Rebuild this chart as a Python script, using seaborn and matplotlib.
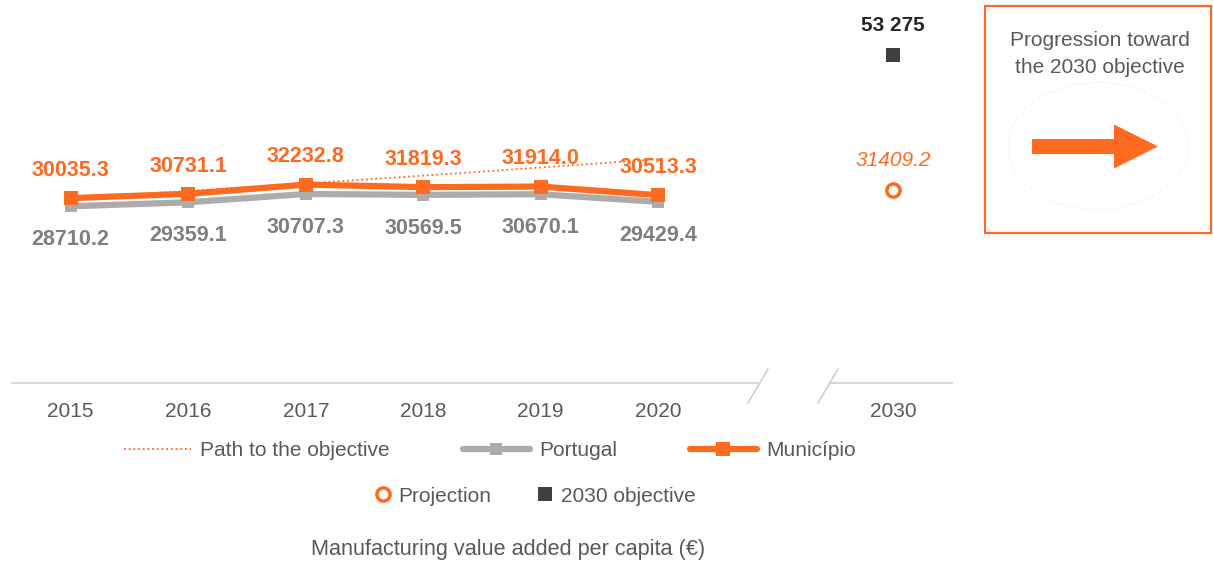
import matplotlib
matplotlib.use("Agg")
import matplotlib.pyplot as plt
import pandas as pd
import seaborn as sns
from matplotlib.lines import Line2D
from matplotlib.patches import Rectangle, FancyArrow, Ellipse

# ---- data -------------------------------------------------------------
years = ["2015", "2016", "2017", "2018", "2019", "2020"]
municipio = [30035.3, 30731.1, 32232.8, 31819.3, 31914.0, 30513.3]
portugal = [28710.2, 29359.1, 30707.3, 30569.5, 30670.1, 29429.4]
path_to_objective = [30035.3, 31206.0, 32423.0, 33688.0, 35001.0, 36366.0]
target_year = "2030"
projection_2030 = 31409.2
objective_2030 = 53275

# ---- style ------------------------------------------------------------
ORANGE = "#FF6A21"
GREY_LINE = "#AEABAB"
GREY_LABEL = "#7F7F7F"
DARK = "#404040"
TEXT = "#595959"
AXIS = "#D9D9D9"

sns.set_theme(style="white")
plt.rcParams["font.family"] = ["Liberation Sans", "DejaVu Sans"]

W, H = 1213, 562
fig = plt.figure(figsize=(W / 100, H / 100), dpi=100)
fig.patch.set_facecolor("white")

# main chart area: x slots 0..5 for the series, slot 6 left empty, slot 7 = target year
ax = fig.add_axes([12 / W, 179 / H, 940 / W, 357 / H])
ax.set_xlim(-0.5, 7.5)
ax.set_ylim(0, 58000)

pos = list(range(len(years)))
target_pos = len(years) + 1

df = pd.DataFrame({
    "pos": pos,
    "year": years,
    "Município": municipio,
    "Portugal": portugal,
    "Path": path_to_objective,
})

dotted = (0, (1, 1.6))
sns.lineplot(data=df, x="pos", y="Path", ax=ax, color=ORANGE, lw=1.3,
             linestyle=dotted, zorder=2)
sns.lineplot(data=df, x="pos", y="Portugal", ax=ax, color=GREY_LINE, lw=4.5,
             marker="s", markersize=9, markeredgewidth=0, zorder=3)
sns.lineplot(data=df, x="pos", y="Município", ax=ax, color=ORANGE, lw=4.5,
             marker="s", markersize=10, markeredgewidth=0, zorder=4)

# 2030 points
sns.scatterplot(x=[target_pos], y=[objective_2030], ax=ax, marker="s",
                color=DARK, s=95, linewidth=0, zorder=5)
ax.plot([target_pos], [projection_2030], ls="none", marker="o",
        markersize=9.5, mfc="white", mec=ORANGE, mew=2.5, zorder=5)

# value labels
for i, v in enumerate(municipio):
    ax.annotate(f"{v:.1f}", (i, v), xytext=(0, 20), textcoords="offset points",
                ha="center", va="center", fontsize=15.5, fontweight="bold",
                color=ORANGE, zorder=6)
for i, v in enumerate(portugal):
    ax.annotate(f"{v:.1f}", (i, v), xytext=(0, -24), textcoords="offset points",
                ha="center", va="center", fontsize=15.5, fontweight="bold",
                color=GREY_LABEL, zorder=6)
ax.annotate(f"{objective_2030:,}".replace(",", " "), (target_pos, objective_2030),
            xytext=(0, 21.5), textcoords="offset points", ha="center", va="center",
            fontsize=15, fontweight="bold", color="#262626")
ax.annotate(f"{projection_2030:.1f}", (target_pos, projection_2030),
            xytext=(0, 21), textcoords="offset points", ha="center", va="center",
            fontsize=15, fontstyle="italic", color=ORANGE)

# axes cosmetics
ax.set_xticks(pos + [target_pos])
ax.set_xticklabels(years + [target_year])
ax.set_yticks([])
ax.set_xlabel("")
ax.set_ylabel("")
ax.tick_params(axis="x", length=0, pad=14, labelsize=15, labelcolor=TEXT)
for s in ax.spines.values():
    s.set_visible(False)
ax.axhline(0, xmin=0, xmax=(758 - 12) / 940, color=AXIS, lw=1.6, clip_on=False)
ax.axhline(0, xmin=(830 - 12) / 940, xmax=1, color=AXIS, lw=1.6, clip_on=False)

# overlay in pixel coordinates for the decorations
ov = fig.add_axes([0, 0, 1, 1], zorder=10)
ov.set_xlim(0, W)
ov.set_ylim(H, 0)
ov.axis("off")
ov.patch.set_alpha(0)

# axis break marks
for x0 in (748, 818):
    ov.plot([x0, x0 + 20], [403, 369], color="#D0D0D0", lw=1.2)

# legend, first row
h1 = [
    Line2D([], [], color=ORANGE, lw=1.3, linestyle=dotted),
    Line2D([], [], color=GREY_LINE, lw=4.5, marker="s", markersize=9, markeredgewidth=0),
    Line2D([], [], color=ORANGE, lw=4.5, marker="s", markersize=10, markeredgewidth=0),
]
fig.legend(h1, ["Path to the objective", "Portugal", "Município"], ncol=3,
           loc="center", bbox_to_anchor=(490 / W, 1 - 451 / H), frameon=False,
           fontsize=15, handlelength=3.2, handletextpad=0.45, columnspacing=3.5,
           labelcolor=TEXT)
# legend, second row
h2 = [
    Line2D([], [], ls="none", marker="o", markersize=9.5, mfc="white", mec=ORANGE, mew=2.5),
    Line2D([], [], ls="none", marker="s", markersize=10, color=DARK, markeredgewidth=0),
]
fig.legend(h2, ["Projection", "2030 objective"], ncol=2, loc="center",
           bbox_to_anchor=(535 / W, 1 - 496 / H), frameon=False, fontsize=15,
           handlelength=0.8, handletextpad=0.35, columnspacing=2.2, labelcolor=TEXT)

fig.text(508 / W, 1 - 549 / H, "Manufacturing value added per capita (€)",
         ha="center", va="center", fontsize=15.6, color=TEXT)

# progression box
ov.add_patch(Rectangle((985, 6), 226, 227, fill=False, ec=ORANGE, lw=1.6))
ov.text(1100, 54, "Progression toward\nthe 2030 objective", ha="center",
        va="center", fontsize=15, color=TEXT, linespacing=1.5)
ov.add_patch(Ellipse((1098, 146), 180, 127, fill=False, ec="#F9F9F9", lw=1))
ov.add_patch(FancyArrow(1032, 146.5, 126, 0, width=15, head_width=44,
                        head_length=44, length_includes_head=True,
                        color=ORANGE, lw=0))

fig.savefig("out.png", dpi=100, facecolor="white")
